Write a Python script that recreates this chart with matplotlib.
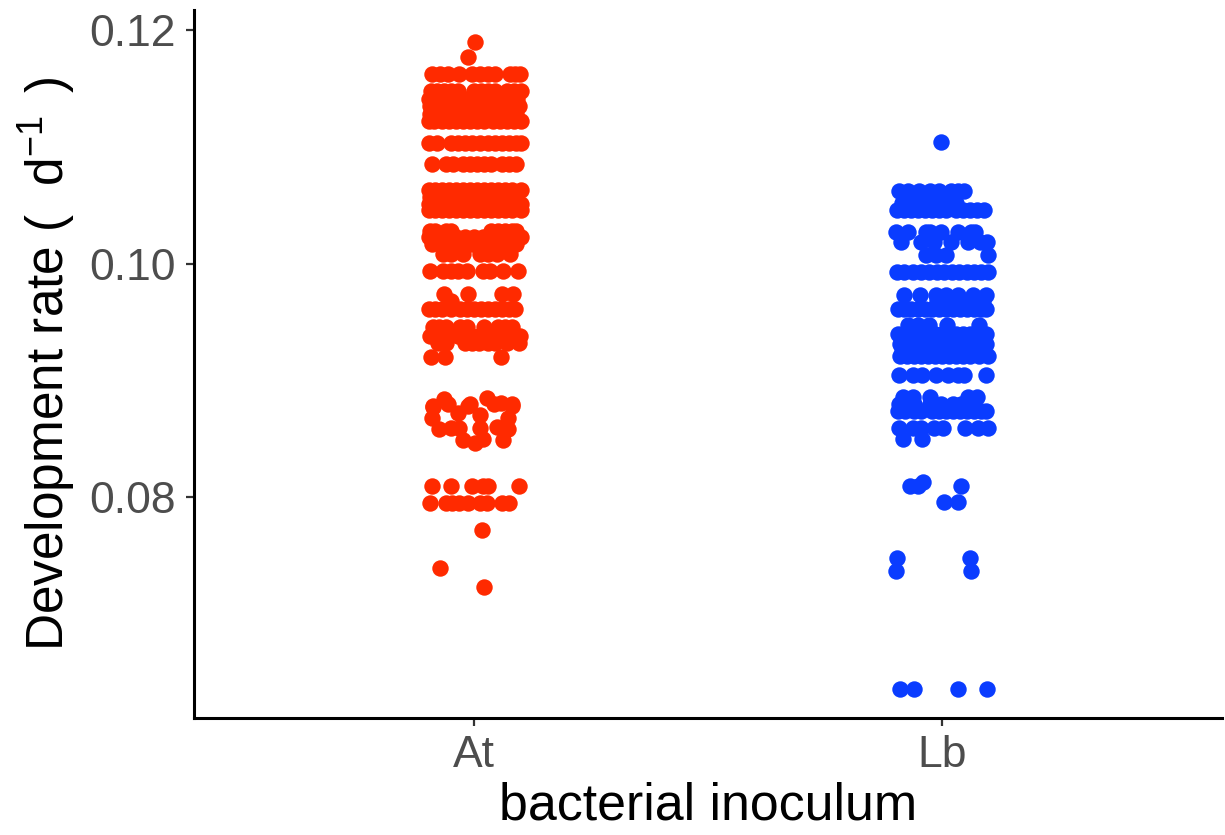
import numpy as np
import matplotlib
matplotlib.use("Agg")
import matplotlib.pyplot as plt

plt.rcParams["font.family"] = ["Liberation Sans", "DejaVu Sans"]
plt.rcParams["mathtext.fontset"] = "custom"
plt.rcParams["mathtext.rm"] = "Liberation Sans"
plt.rcParams["mathtext.it"] = "Liberation Sans"
plt.rcParams["mathtext.default"] = "regular"

categories = ["At", "Lb"]
y_ticks = [0.08, 0.10, 0.12]
y_tick_labels = ["0.08", "0.10", "0.12"]

at_levels = [
    0.1190, 0.1177, 0.1162, 0.1148, 0.1141, 0.1135, 0.1128, 0.1122, 0.1103, 0.1085,
    0.1063, 0.1057, 0.1051, 0.1046, 0.1028, 0.1023, 0.1017, 0.1008, 0.0994, 0.0974,
    0.0968, 0.0961, 0.0946, 0.0938, 0.0932, 0.0920, 0.0810, 0.0795, 0.0772, 0.0739, 0.0723,
]
at_jitter = [
    [0.002],
    [-0.013],
    [-0.09, -0.073, -0.056, -0.032, -0.004, 0.013, 0.03, 0.045, 0.077, 0.088, 0.098],
    [-0.093, -0.08, -0.065, -0.05, -0.035, 0.0, 0.015, 0.03, 0.045, 0.07, 0.085, 0.1],
    [-0.098, -0.085, -0.07, -0.055, -0.04, -0.02, -0.005, 0.01, 0.028, 0.043, 0.06, 0.078, 0.092],
    [-0.094, -0.08, -0.06, -0.045, -0.03, 0.0, 0.02, 0.05, 0.065, 0.08, 0.095],
    [-0.096, -0.078, -0.062, -0.04, -0.025, -0.01, 0.008, 0.03, 0.05, 0.07, 0.09],
    [-0.098, -0.086, -0.07, -0.055, -0.04, -0.025, -0.01, 0.005, 0.02, 0.04, 0.055, 0.07, 0.085, 0.1],
    [-0.098, -0.08, -0.05, -0.035, -0.02, -0.005, 0.012, 0.03, 0.045, 0.06, 0.075, 0.09, 0.1],
    [-0.09, -0.06, -0.045, -0.025, -0.01, 0.005, 0.02, 0.035, 0.06, 0.075, 0.09],
    [-0.098, -0.085, -0.07, -0.055, -0.04, -0.025, -0.01, 0.005, 0.02, 0.035, 0.05, 0.065, 0.08, 0.1],
    [-0.095, -0.075, -0.05, -0.03, -0.01, 0.01, 0.03, 0.05, 0.07, 0.09],
    [-0.098, -0.082, -0.06, -0.04, -0.02, 0.0, 0.02, 0.04, 0.06, 0.08, 0.1],
    [-0.098, -0.085, -0.07, -0.055, -0.04, -0.025, -0.01, 0.005, 0.02, 0.035, 0.05, 0.065, 0.08, 0.1],
    [-0.095, -0.085, -0.06, -0.05, 0.035, 0.05, 0.065, 0.08, 0.09],
    [-0.098, -0.08, -0.065, -0.04, -0.02, 0.0, 0.018, 0.03, 0.05, 0.07, 0.085, 0.1],
    [-0.09, -0.07, -0.05, -0.035, -0.02, -0.005, 0.01, 0.03, 0.05, 0.07, 0.09],
    [-0.068, -0.051, -0.024, 0.013, 0.03, 0.049, 0.077],
    [-0.094, -0.068, -0.051, -0.034, -0.015, 0.019, 0.034, 0.062, 0.094],
    [-0.066, -0.013, 0.06, 0.083],
    [-0.051],
    [-0.098, -0.085, -0.07, -0.05, -0.03, -0.015, 0.0, 0.015, 0.03, 0.045, 0.06, 0.075, 0.088],
    [-0.088, -0.075, -0.06, -0.03, -0.015, 0.02, 0.05, 0.065, 0.08],
    [-0.094, -0.08, -0.06, -0.035, -0.02, -0.005, 0.01, 0.03, 0.055, 0.07, 0.098],
    [-0.078, -0.06, -0.02, -0.005, 0.01, 0.03, 0.045, 0.07, 0.095],
    [-0.092, -0.062, 0.056],
    [-0.09, -0.05, -0.004, 0.018, 0.03, 0.096],
    [-0.096, -0.06, -0.047, -0.032, -0.013, 0.013, 0.028, 0.06, 0.075],
    [0.017],
    [-0.073],
    [0.021],
]
# the loose cluster near 0.087 has no clear rows, so single points
at_cluster_x = [-0.066, -0.088, -0.009, 0.026, 0.056, 0.081, -0.09, -0.088, -0.056, -0.013,
                -0.034, 0.013, 0.073, 0.081, 0.041, -0.075, -0.051, -0.032, -0.024, 0.002,
                0.019, 0.013, 0.049, 0.073, 0.062]
at_cluster_y = [0.0884, 0.0878, 0.0880, 0.0885, 0.0881, 0.0880, 0.0868, 0.0877, 0.0880, 0.0878,
                0.0872, 0.0870, 0.0868, 0.0878, 0.0880, 0.0858, 0.0859, 0.0859, 0.0849, 0.0846,
                0.0850, 0.0859, 0.0860, 0.0858, 0.0849]

lb_levels = [
    0.1104, 0.1062, 0.1052, 0.1046, 0.1027, 0.1018, 0.1007, 0.0993, 0.0973, 0.0968,
    0.0961, 0.0947, 0.0940, 0.0936, 0.0931, 0.0925, 0.0921, 0.0905, 0.0886, 0.0880,
    0.0874, 0.0859, 0.0850, 0.0813, 0.0810, 0.0796, 0.0748, 0.0737, 0.0636,
]
lb_jitter = [
    [-0.002],
    [-0.092, -0.071, -0.049, -0.024, -0.006, 0.019, 0.034, 0.047],
    [-0.085, -0.06, -0.035, -0.012, 0.008, 0.03],
    [-0.096, -0.08, -0.065, -0.05, -0.035, -0.02, -0.005, 0.01, 0.03, 0.045, 0.06, 0.075, 0.09],
    [-0.098, -0.071, -0.034, -0.024, -0.002, 0.036, 0.062, 0.072],
    [-0.088, -0.045, -0.017, 0.019, 0.056, 0.083, 0.098],
    [-0.034, -0.013, 0.009, 0.1],
    [-0.096, -0.08, -0.062, -0.045, -0.028, -0.01, 0.006, 0.022, 0.038, 0.055, 0.07, 0.085, 0.1],
    [-0.081, -0.047, -0.013, 0.009, 0.034, 0.068, 0.094],
    [-0.01, 0.01, 0.03, 0.05, 0.07, 0.088],
    [-0.094, -0.08, -0.065, -0.05, -0.035, -0.02, -0.005, 0.01, 0.025, 0.04, 0.055, 0.07, 0.085, 0.096],
    [-0.073, -0.051, -0.028, 0.011, 0.079],
    [-0.093, -0.078, -0.06, -0.045, -0.03, -0.015, 0.0, 0.015, 0.03, 0.045, 0.06, 0.08, 0.096],
    [-0.088, -0.07, -0.05, -0.03, -0.01, 0.01, 0.03, 0.05, 0.09],
    [-0.09, -0.075, -0.06, -0.045, -0.03, -0.015, 0.0, 0.015, 0.03, 0.045, 0.06, 0.08, 0.095],
    [-0.085, -0.065, -0.045, -0.025, -0.005, 0.015, 0.035, 0.055, 0.075, 0.09],
    [-0.09, -0.075, -0.06, -0.045, -0.03, -0.015, 0.0, 0.015, 0.03, 0.045, 0.06, 0.08, 0.1],
    [-0.092, -0.062, -0.041, -0.013, 0.013, 0.034, 0.047, 0.096],
    [-0.083, -0.062, -0.024, 0.056, 0.075],
    [-0.092, -0.077, -0.06, -0.024, -0.002, 0.024, 0.041, 0.062],
    [-0.094, -0.078, -0.06, -0.045, -0.02, -0.005, 0.01, 0.025, 0.04, 0.055, 0.07, 0.085, 0.096],
    [-0.092, -0.062, -0.045, -0.017, 0.002, 0.051, 0.077, 0.1],
    [-0.083, -0.041],
    [-0.039],
    [-0.068, -0.051, 0.041],
    [0.006, 0.034],
    [-0.096, 0.06],
    [-0.098, 0.062],
    [-0.09, -0.06, 0.036, 0.098],
]


def expand_rows(center, levels, jitter):
    x = np.concatenate([center + np.array(row) for row in jitter])
    y = np.repeat(levels, [len(row) for row in jitter])
    return x, y


fig = plt.figure(figsize=(12.25, 8.35), dpi=100)
ax = fig.add_axes([194 / 1225, 117 / 835, 1028 / 1225, 708 / 835])

at_x, at_y = expand_rows(1, at_levels, at_jitter)
at_x = np.concatenate([at_x, 1 + np.array(at_cluster_x)])
at_y = np.concatenate([at_y, at_cluster_y])
lb_x, lb_y = expand_rows(2, lb_levels, lb_jitter)

ax.scatter(at_x, at_y, s=140, color="#FF2A00", linewidths=0, clip_on=False)
ax.scatter(lb_x, lb_y, s=140, color="#0A3CFF", linewidths=0, clip_on=False)

ax.set_xlim(0.4, 2.6)
ax.set_ylim(0.0611, 0.1217)
ax.set_xticks([1, 2])
ax.set_xticklabels(categories)
ax.set_yticks(y_ticks)
ax.set_yticklabels(y_tick_labels)
ax.tick_params(axis="both", labelsize=32, labelcolor="#4D4D4D", color="#333333", width=1.6, length=5.5)
ax.tick_params(axis="y", pad=7.5)
ax.tick_params(axis="x", pad=7)

ax.set_xlabel("bacterial inoculum", fontsize=37.4, labelpad=4)
ax.set_ylabel(r"Development rate (  d$^{-1}\,$ )", fontsize=37, labelpad=8)

for side in ["top", "right"]:
    ax.spines[side].set_visible(False)
for side in ["left", "bottom"]:
    ax.spines[side].set_linewidth(2.2)

fig.savefig("out.png", dpi=100)
